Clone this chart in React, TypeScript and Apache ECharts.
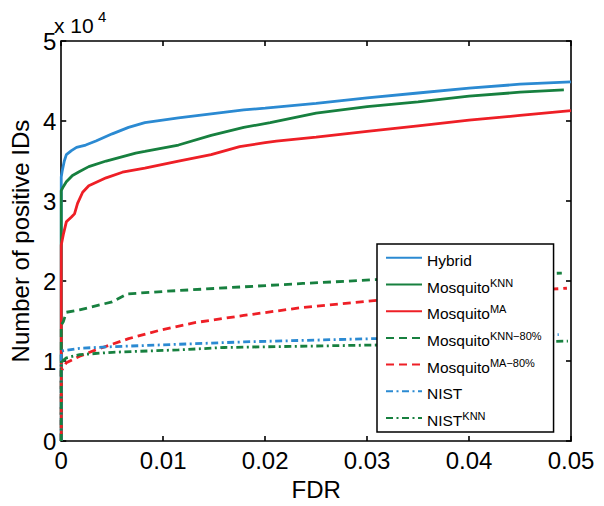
import React, { useEffect, useRef } from 'react';
import * as echarts from 'echarts';

const FONT = '"Liberation Sans", Arial, Helvetica, sans-serif';
const BLUE = '#2b8ad2';
const GREEN = '#17803f';
const RED = '#ee1f26';

// X axis (FDR) ticks and Y axis (x 10^4) ticks
const xTicks = [0, 0.01, 0.02, 0.03, 0.04, 0.05];
const yTicks = [0, 10000, 20000, 30000, 40000, 50000];

// Hybrid
const hybridFdr = [0, 0, 0.0001, 0.0003, 0.0005, 0.001, 0.0015, 0.0024, 0.0034, 0.005, 0.0066, 0.0082, 0.0115, 0.0147, 0.0179, 0.02, 0.025, 0.03, 0.035, 0.04, 0.045, 0.05];
const hybridIds = [0, 33000, 33800, 35000, 35800, 36300, 36700, 37000, 37500, 38400, 39200, 39800, 40400, 40900, 41400, 41600, 42200, 42900, 43500, 44100, 44600, 44900];

// Mosquito KNN
const knnFdr = [0, 0, 0.0002, 0.0005, 0.0011, 0.0018, 0.0027, 0.0044, 0.0073, 0.0082, 0.0115, 0.0147, 0.0179, 0.0205, 0.025, 0.03, 0.035, 0.04, 0.045, 0.0493];
const knnIds = [0, 31300, 31800, 32400, 33200, 33700, 34300, 35000, 36000, 36200, 37000, 38200, 39200, 39800, 41000, 41800, 42400, 43100, 43600, 43900];

// Mosquito MA
const maFdr = [0, 0, 0.0002, 0.0005, 0.001, 0.0013, 0.0016, 0.0021, 0.0027, 0.0044, 0.006, 0.0082, 0.0115, 0.0147, 0.0175, 0.02, 0.0211, 0.025, 0.03, 0.035, 0.04, 0.045, 0.05];
const maIds = [0, 24500, 25800, 27400, 28000, 28400, 29700, 31100, 31900, 32900, 33600, 34100, 35000, 35800, 36800, 37300, 37500, 38000, 38700, 39400, 40100, 40700, 41300];

// Mosquito KNN-80%
const knn80Fdr = [0, 0, 0.0002, 0.0005, 0.0018, 0.005, 0.0065, 0.01, 0.014, 0.0237, 0.0312, 0.04, 0.0491];
const knn80Ids = [0, 14500, 14900, 16100, 16400, 17400, 18400, 18700, 19000, 19700, 20200, 20600, 21000];

// Mosquito MA-80%
const ma80Fdr = [0, 0, 0.0002, 0.0005, 0.0018, 0.0034, 0.0066, 0.0098, 0.0131, 0.0179, 0.0237, 0.031, 0.04, 0.0496];
const ma80Ids = [0, 8700, 9200, 9800, 10600, 11400, 12800, 13900, 14800, 15700, 16700, 17600, 18400, 19100];

// NIST
const nistFdr = [0, 0, 0.0002, 0.0018, 0.005, 0.0115, 0.0179, 0.0305, 0.04, 0.0488];
const nistIds = [0, 11200, 11300, 11600, 11800, 12100, 12400, 12800, 13000, 13300];

// NIST KNN
const nistKnnFdr = [0, 0, 0.0002, 0.0005, 0.0018, 0.005, 0.0115, 0.016, 0.0305, 0.04, 0.0497];
const nistKnnIds = [0, 9800, 10100, 10400, 10800, 11100, 11400, 11700, 12000, 12200, 12500];

const seriesNames = ['Hybrid', 'Mosquito^KNN', 'Mosquito^MA', 'Mosquito^KNN\u221280%', 'Mosquito^MA\u221280%', 'NIST', 'NIST^KNN'];

const zip = (xs: number[], ys: number[]) => xs.map((x, i) => [x, ys[i]]);

export default function App() {
  const ref = useRef<HTMLDivElement>(null);
  useEffect(() => {
    const chart = echarts.init(ref.current!, null, { renderer: 'svg' });
    const dashed = [8, 5];
    const dashDot = [7, 3.5, 2, 3.5];
    const mk = (name: string, fdr: number[], ids: number[], color: string, type: any) => ({
      type: 'line',
      name,
      data: zip(fdr, ids),
      symbol: 'none',
      itemStyle: { color },
      lineStyle: { color, width: 2.8, type },
      emphasis: { disabled: true },
    });
    const axisLine = { show: true, onZero: false, lineStyle: { color: '#000', width: 1.6 } };
    const axisTick = { show: true, inside: true, length: 5, lineStyle: { color: '#000', width: 1.6 } };
    const labelStyle = { fontSize: 24, color: '#000', fontFamily: FONT };
    const option: any = {
      animation: false,
      backgroundColor: '#fff',
      textStyle: { fontFamily: FONT },
      grid: { left: 55, right: 33, top: 41, bottom: 60 },
      xAxis: [
        {
          type: 'value', min: xTicks[0], max: xTicks[xTicks.length - 1], interval: xTicks[1] - xTicks[0],
          position: 'bottom', axisLine, axisTick, splitLine: { show: false },
          axisLabel: { ...labelStyle, margin: 7, formatter: (v: number) => (v === 0 ? '0' : v.toFixed(2)) },
          name: 'FDR', nameLocation: 'middle', nameGap: 30,
          nameTextStyle: { ...labelStyle },
        },
        {
          type: 'value', min: xTicks[0], max: xTicks[xTicks.length - 1], interval: xTicks[1] - xTicks[0],
          position: 'top', axisLine, axisTick, splitLine: { show: false }, axisLabel: { show: false },
        },
      ],
      yAxis: [
        {
          type: 'value', min: yTicks[0], max: yTicks[yTicks.length - 1], interval: yTicks[1] - yTicks[0],
          position: 'left', axisLine, axisTick, splitLine: { show: false },
          axisLabel: { ...labelStyle, margin: 5, formatter: (v: number) => String(v / 10000) },
          name: 'Number of positive IDs', nameLocation: 'middle', nameGap: 27,
          nameTextStyle: { ...labelStyle },
        },
        {
          type: 'value', min: yTicks[0], max: yTicks[yTicks.length - 1], interval: yTicks[1] - yTicks[0],
          position: 'right', axisLine, axisTick, splitLine: { show: false }, axisLabel: { show: false },
        },
      ],
      legend: {
        orient: 'vertical',
        left: 377,
        top: 244,
        padding: [3.3, 12, 3.5, 8],
        itemWidth: 36,
        itemHeight: 14,
        itemGap: 5.7,
        backgroundColor: '#fff',
        borderColor: '#000',
        borderWidth: 1.5,
        borderRadius: 0,
        selectedMode: false,
        itemStyle: { opacity: 0 },
        data: seriesNames,
        formatter: (name: string) => {
          const [b, s] = name.split('^');
          return s ? `{b|${b}}{s|${s}}` : `{b|${b}}`;
        },
        textStyle: {
          fontFamily: FONT,
          color: '#000',
          rich: {
            b: { fontSize: 15.5, lineHeight: 15, padding: [5, 0, 0, 0], fontFamily: FONT, color: '#000' },
            s: { fontSize: 11, lineHeight: 11, verticalAlign: 'top', fontFamily: FONT, color: '#000' },
          },
        },
      },
      graphic: [
        { type: 'text', left: 54, top: 15, style: { text: 'x 10', fontSize: 21, fontFamily: FONT, fill: '#000' } },
        { type: 'text', left: 98, top: 9, style: { text: '4', fontSize: 15, fontFamily: FONT, fill: '#000' } },
      ],
      series: [
        mk(seriesNames[0], hybridFdr, hybridIds, BLUE, 'solid'),
        mk(seriesNames[1], knnFdr, knnIds, GREEN, 'solid'),
        mk(seriesNames[2], maFdr, maIds, RED, 'solid'),
        mk(seriesNames[3], knn80Fdr, knn80Ids, GREEN, dashed),
        mk(seriesNames[4], ma80Fdr, ma80Ids, RED, dashed),
        mk(seriesNames[5], nistFdr, nistIds, BLUE, dashDot),
        mk(seriesNames[6], nistKnnFdr, nistKnnIds, GREEN, dashDot),
      ],
    };
    chart.setOption(option);
    return () => chart.dispose();
  }, []);
  return <div ref={ref} style={{ position: 'fixed', left: 0, top: 0, width: 604, height: 506 }} />;
}
